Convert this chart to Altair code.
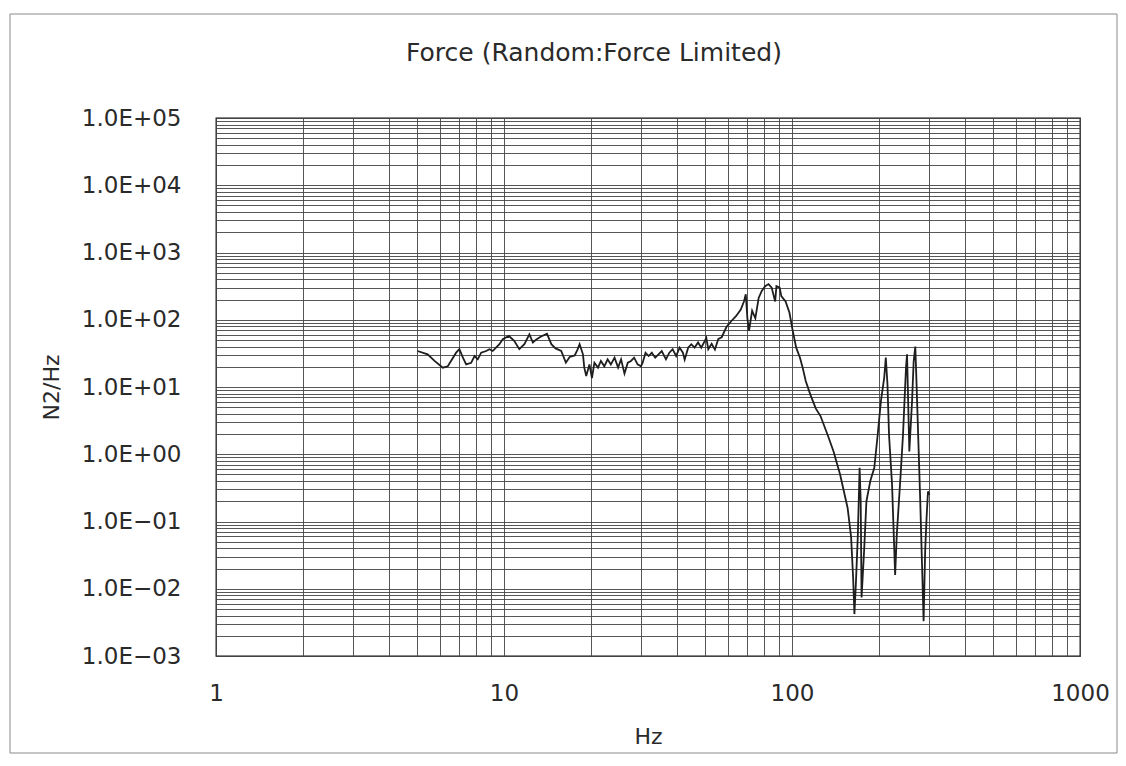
import altair as alt
import pandas as pd

title_text = "Force (Random:Force Limited)"
x_title = "Hz"
y_title = "N2/Hz"

freq_hz = [
    5.01, 5.43, 5.74, 6.13, 6.38, 6.82, 7.0, 7.2, 7.39, 7.69, 7.9, 8.11, 8.33, 8.67, 8.9,
    9.14, 9.38, 9.64, 9.9, 10.4, 10.85, 11.3, 11.77, 12.25, 12.6, 12.95, 13.4, 14.1, 14.6,
    15.1, 15.8, 16.4, 16.9, 17.6, 18.0, 18.3, 18.8, 19.0, 19.3, 19.8, 20.2, 20.6, 21.2,
    21.7, 22.3, 22.9, 23.5, 24.2, 24.9, 25.5, 26.2, 26.9, 27.6, 28.3, 29.1, 29.9, 30.3,
    31.0, 31.8, 32.6, 33.5, 34.4, 35.3, 36.5, 37.5, 38.5, 39.6, 40.7, 41.8, 42.4, 43.6,
    44.7, 45.9, 47.2, 48.4, 49.8, 50.4, 51.2, 52.6, 54.0, 55.5, 57.0, 59.2, 61.5, 63.9,
    66.4, 68.1, 69.1, 70.0, 70.9, 72.7, 74.6, 76.6, 78.6, 80.7, 82.9, 85.0, 87.4, 88.3,
    90.6, 91.8, 95.0, 98.0, 100.6, 103.4, 106.6, 108.9, 111.6, 115.8, 120.9, 125.6, 133.2,
    139.4, 146.9, 156.0, 160.4, 163.0, 164.7, 166.6, 169.2, 171.7, 173.2, 174.4, 178.0,
    181.3, 187.0, 193.1, 198.4, 203.7, 209.0, 211.7, 214.5, 217.2, 222.5, 228.1, 231.1,
    237.2, 242.9, 248.8, 250.9, 255.5, 261.2, 264.5, 268.0, 270.7, 278.8, 286.4, 290.0,
    293.3, 296.6, 300.0,
]
psd_n2hz = [
    34.3, 30.6, 24.4, 19.4, 20.3, 32.4, 36.5, 27.3, 21.7, 22.9, 28.9, 25.8, 32.4, 34.3, 36.5,
    34.3, 38.5, 43.3, 51.2, 57.4, 48.6, 36.5, 43.3, 60.7, 45.9, 51.0, 56.0, 62.0, 43.3,
    37.5, 34.3, 23.0, 28.0, 29.5, 36.0, 43.3, 30.6, 19.4, 14.6, 21.7, 13.6, 23.0, 19.4,
    24.4, 20.3, 25.8, 21.7, 27.3, 19.4, 25.8, 15.8, 23.0, 24.4, 27.3, 21.7, 20.3, 23.0,
    32.4, 28.9, 32.4, 27.3, 30.6, 34.3, 25.8, 32.4, 36.5, 28.9, 38.5, 32.4, 25.5, 38.5,
    43.3, 38.5, 45.9, 38.5, 48.6, 53.9, 36.5, 44.0, 36.0, 52.0, 55.0, 78.0, 95.0, 113.0,
    142.0, 187.0, 239.0, 105.0, 68.5, 136.0, 105.0, 211.0, 271.0, 316.0, 339.0, 301.0, 187.0, 316.0,
    301.0, 225.0, 187.0, 127.0, 68.5, 38.5, 27.3, 19.4, 12.3, 7.7, 4.8, 3.7, 1.9,
    1.1, 0.50, 0.159, 0.059, 0.0147, 0.0042, 0.0116, 0.059, 0.63, 0.20, 0.0074, 0.037,
    0.20, 0.40, 0.63, 1.95, 6.3, 13.7, 27.3, 11.1, 1.95, 0.36, 0.016, 0.063,
    0.36, 1.95, 19.4, 30.6, 1.1, 6.3, 23.9, 40.0, 11.1, 0.20, 0.0033, 0.037,
    0.115, 0.28, 0.25,
]

x_decades = [1, 10, 100, 1000]
x_decade_labels = ["1", "10", "100", "1000"]
y_decades = [0.001, 0.01, 0.1, 1, 10, 100, 1000, 10000, 100000]
y_decade_labels = ["1.0E\u221203", "1.0E\u221202", "1.0E\u221201", "1.0E+00", "1.0E+01",
                   "1.0E+02", "1.0E+03", "1.0E+04", "1.0E+05"]

x_grid = [m * 10 ** k for k in range(0, 3) for m in range(1, 10)] + [1000]
y_grid = [m * 10.0 ** k for k in range(-3, 5) for m in range(1, 10)] + [100000]


def label_expr(vals, labs):
    expr = "''"
    for v, lab in reversed(list(zip(vals, labs))):
        expr = f"datum.value == {v} ? '{lab}' : {expr}"
    return expr


W, H = 864, 538
FONT = "DejaVu Sans"
TXT = "#2a2a2a"

df = pd.DataFrame({"f": freq_hz, "v": psd_n2hz})
one = pd.DataFrame({"k": [0]})

xscale = alt.Scale(type="log", domain=[1, 1000], nice=False)
yscale = alt.Scale(type="log", domain=[0.001, 100000], nice=False)

line = alt.Chart(df).mark_line(color="#1e1e1e", strokeWidth=1.8).encode(
    x=alt.X("f:Q", scale=xscale, axis=alt.Axis(
        values=x_grid, labelExpr=label_expr(x_decades, x_decade_labels),
        title=x_title, grid=True, ticks=False, tickSize=0, domain=False,
        labelFlush=False, labelOverlap=False, labelPadding=37,
        labelBaseline="middle", labelAlign="center",
        labelFont=FONT, labelFontSize=23, labelColor=TXT,
        titleFont=FONT, titleFontSize=22, titleFontWeight="normal", titleColor=TXT,
        titleX=W / 2, titleY=80, titleAlign="center", titleBaseline="middle",
    )),
    y=alt.Y("v:Q", scale=yscale, axis=alt.Axis(
        values=y_grid, labelExpr=label_expr(y_decades, y_decade_labels),
        title=y_title, grid=True, ticks=False, tickSize=0, domain=False,
        labelFlush=False, labelOverlap=False, labelPadding=35,
        labelBaseline="middle", labelAlign="right",
        labelFont=FONT, labelFontSize=23, labelColor=TXT,
        titleFont=FONT, titleFontSize=22, titleFontWeight="normal", titleColor=TXT,
        titleX=-165, titleY=H / 2, titleAngle=270, titleAlign="center", titleBaseline="middle",
    )),
)

frame = alt.Chart(one).mark_rect(fillOpacity=0, stroke="#8a8a8a", strokeWidth=1).encode(
    x=alt.value(-206), x2=alt.value(901), y=alt.value(-104), y2=alt.value(635)
)

title = alt.Chart(one).mark_text(
    font=FONT, fontSize=25, color=TXT, align="center", baseline="middle"
).encode(x=alt.value(378), y=alt.value(-65), text=alt.value(title_text))

chart = alt.layer(frame, line, title).properties(
    width=W, height=H,
    padding={"left": 1, "top": 5, "right": 0, "bottom": 0},
).configure_view(
    stroke="#111111", strokeWidth=1.3
).configure_axis(
    gridColor="#444444", gridWidth=0.9, gridOpacity=1
)

chart.save("out.html", embed_options={"renderer": "svg", "actions": False})
